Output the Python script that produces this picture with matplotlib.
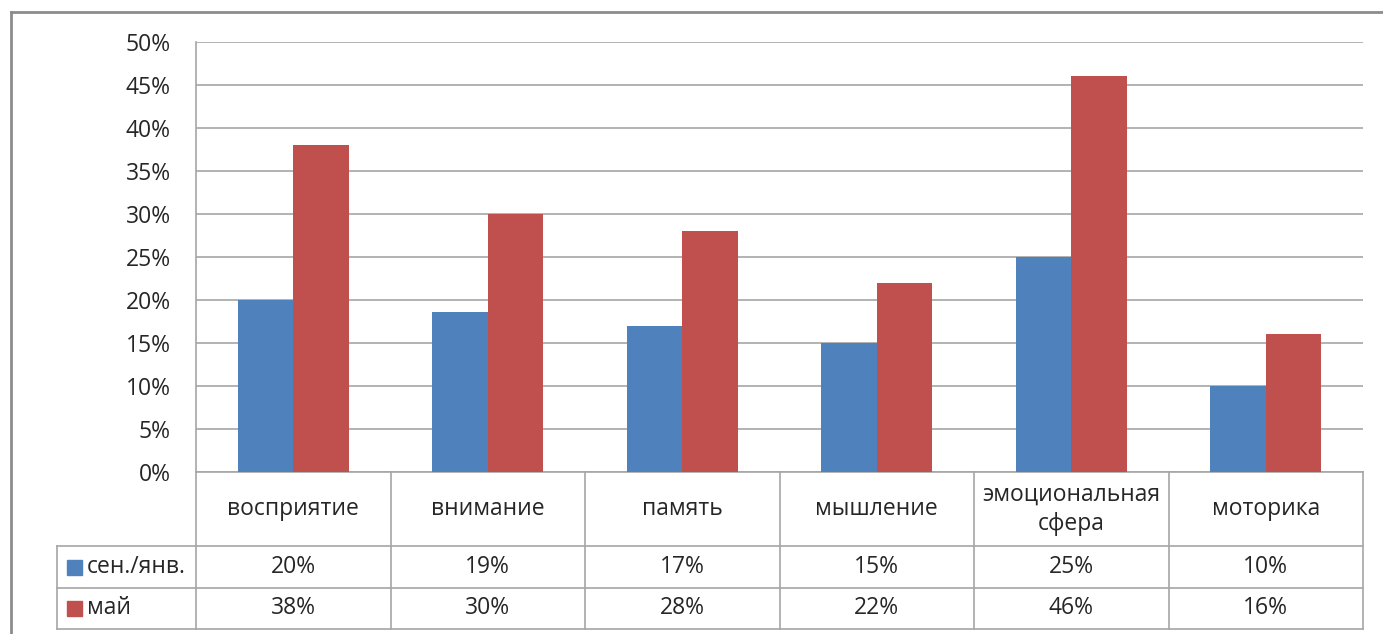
import numpy as np
import matplotlib.pyplot as plt
from matplotlib.lines import Line2D
from matplotlib.patches import Rectangle
import matplotlib.transforms as mtransforms

plt.rcParams['font.family'] = ['Open Sans', 'DejaVu Sans']

categories = ['восприятие', 'внимание', 'память', 'мышление', 'эмоциональная\nсфера', 'моторика']
series_names = ['сен./янв.', 'май']
sep_jan = [20, 18.6, 17, 15, 25, 10]
may = [38, 30, 28, 22, 46, 16]
yticks = [0, 5, 10, 15, 20, 25, 30, 35, 40, 45, 50]

blue = '#4F81BD'
red = '#C0504D'
grid_col = '#A6A6A6'
text_col = '#262626'
fs = 16.5

fig = plt.figure(figsize=(13.83, 6.34), dpi=100)
ax = fig.add_axes([196 / 1383, 1 - 472 / 634, (1363 - 196) / 1383, (472 - 42) / 634])

x = np.arange(len(categories))
w = 1 / 3.5
ax.bar(x - w / 2, sep_jan, w, color=blue, zorder=3)
ax.bar(x + w / 2, may, w, color=red, zorder=3)

ax.set_xlim(-0.5, len(categories) - 0.5)
ax.set_ylim(0, 50)
ax.set_yticks(yticks)
ax.set_yticklabels([f'{v}%' for v in yticks], fontsize=fs, color=text_col)
ax.set_xticks([])
ax.tick_params(axis='y', length=0, pad=18)
ax.yaxis.grid(True, color=grid_col, linewidth=1.2, zorder=0)
for s in ['top', 'right', 'bottom']:
    ax.spines[s].set_visible(False)
ax.spines['left'].set_color(grid_col)
ax.spines['left'].set_linewidth(1.2)

# data table under the chart
trans = mtransforms.blended_transform_factory(ax.transData, ax.transAxes)
px = 1 / 430
rows_y = [0, -74 * px, -116 * px, -157 * px]
left_col = -0.5 - 139 / 194.5
line_kw = dict(color=grid_col, linewidth=1.2, clip_on=False)

# horizontal lines
ax.add_line(Line2D([-0.5, 5.5], [rows_y[0]] * 2, transform=trans, **line_kw))
for yy in rows_y[1:]:
    ax.add_line(Line2D([left_col, 5.5], [yy, yy], transform=trans, **line_kw))
# vertical lines
for b in np.arange(-0.5, 6.0, 1.0):
    ax.add_line(Line2D([b, b], [rows_y[0], rows_y[3]], transform=trans, **line_kw))
ax.add_line(Line2D([left_col, left_col], [rows_y[1], rows_y[3]], transform=trans, **line_kw))

for i, cat in enumerate(categories):
    ax.text(i, (rows_y[0] + rows_y[1]) / 2, cat, transform=trans, ha='center', va='center',
            fontsize=fs, color=text_col, linespacing=1.3)
    for r, vals in enumerate([sep_jan, may]):
        ax.text(i, (rows_y[r + 1] + rows_y[r + 2]) / 2, f'{vals[i]:.0f}%', transform=trans,
                ha='center', va='center', fontsize=fs, color=text_col)

for r, (name, col) in enumerate(zip(series_names, [blue, red])):
    yc = (rows_y[r + 1] + rows_y[r + 2]) / 2
    ax.add_patch(Rectangle((left_col + 10 / 194.5, yc - 7.5 * px), 15 / 194.5, 15 * px,
                           transform=trans, color=col, clip_on=False))
    ax.text(left_col + 30 / 194.5, yc, name, transform=trans, ha='left', va='center',
            fontsize=fs, color=text_col)

# outer chart frame
frame_kw = dict(color='#8C8C8C', linewidth=2, transform=fig.transFigure)
fig.add_artist(Line2D([11 / 1383, 11 / 1383], [1 - 12 / 634, 0], **frame_kw))
fig.add_artist(Line2D([11 / 1383, 1], [1 - 12 / 634, 1 - 12 / 634], **frame_kw))

fig.savefig('out.png', dpi=100)
